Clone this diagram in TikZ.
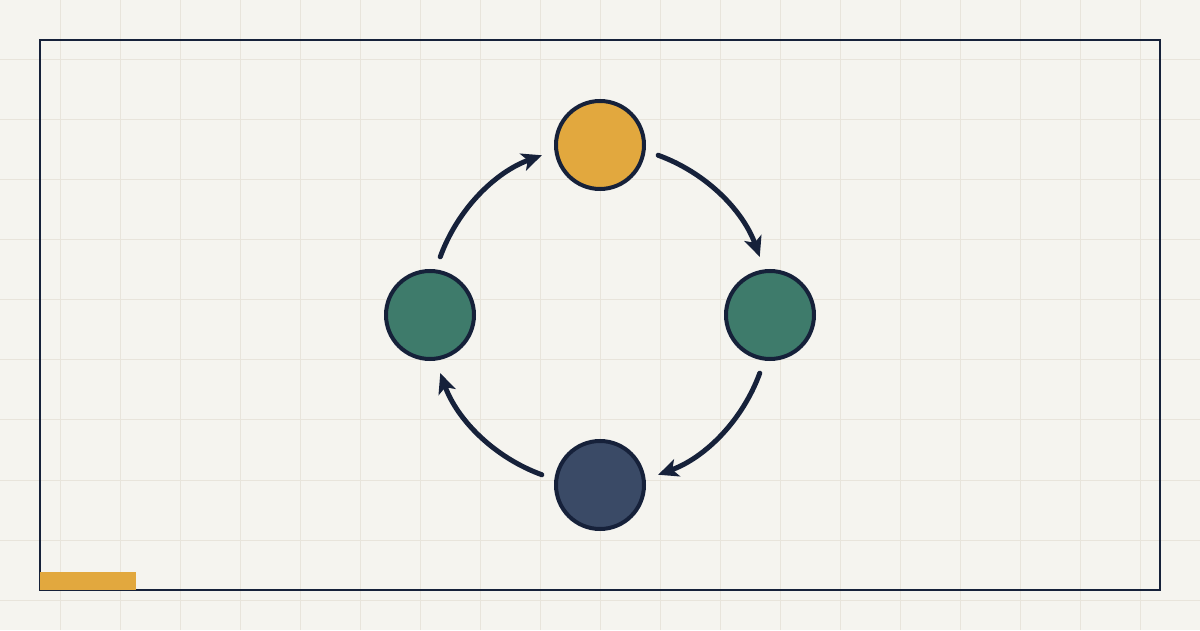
\documentclass[tikz,border=0pt]{standalone}
\usepackage{tikz}
\usetikzlibrary{arrows.meta}
\definecolor{paper}{HTML}{F5F4EF}
\definecolor{gridline}{HTML}{E8E4DB}
\definecolor{ink}{HTML}{16213A}
\definecolor{amber}{HTML}{E2A83E}
\definecolor{teal}{HTML}{3E7B6B}
\definecolor{slate}{HTML}{3A4A66}
\tikzset{
  stage/.style  = {shape=circle, draw=ink, line width=4pt,
                   minimum size=88pt, inner sep=0pt},
  start/.style  = {stage, fill=amber},
  mid/.style    = {stage, fill=teal},
  finish/.style = {stage, fill=slate},
  flow/.style   = {draw=ink, line width=5pt, line cap=round,
                   -{Stealth[length=20pt,width=18pt,inset=5pt]}}
}
\begin{document}
\begin{tikzpicture}
  [
    x = 1pt,
    y = 1pt
  ]
  % canvas and grid
  \fill [paper] (0,0) rectangle (1200,630);
  \useasboundingbox (0,0) rectangle (1200,630);
  \foreach \gx in {60,120,...,1140}
    \draw [gridline, line width=1pt] (\gx,0) -- (\gx,630);
  \foreach \gy in {30,90,...,570}
    \draw [gridline, line width=1pt] (0,\gy) -- (1200,\gy);
  \draw [ink, line width=2pt] (40,40) rectangle (1160,590);
  \fill [amber] (40,40) rectangle (136,58);

  % cycle
  \coordinate (hub) at (600,315);
  \node [start]  (top)    at (600,485) {};
  \node [mid]    (right)  at (770,315) {};
  \node [finish] (bottom) at (600,145) {};
  \node [mid]    (left)   at (430,315) {};

  \foreach \a in {90,0,-90,-180}
    \draw [flow] (hub) ++(\a-20:170) arc [start angle=\a-20, end angle=\a-70, radius=170];
\end{tikzpicture}
\end{document}
